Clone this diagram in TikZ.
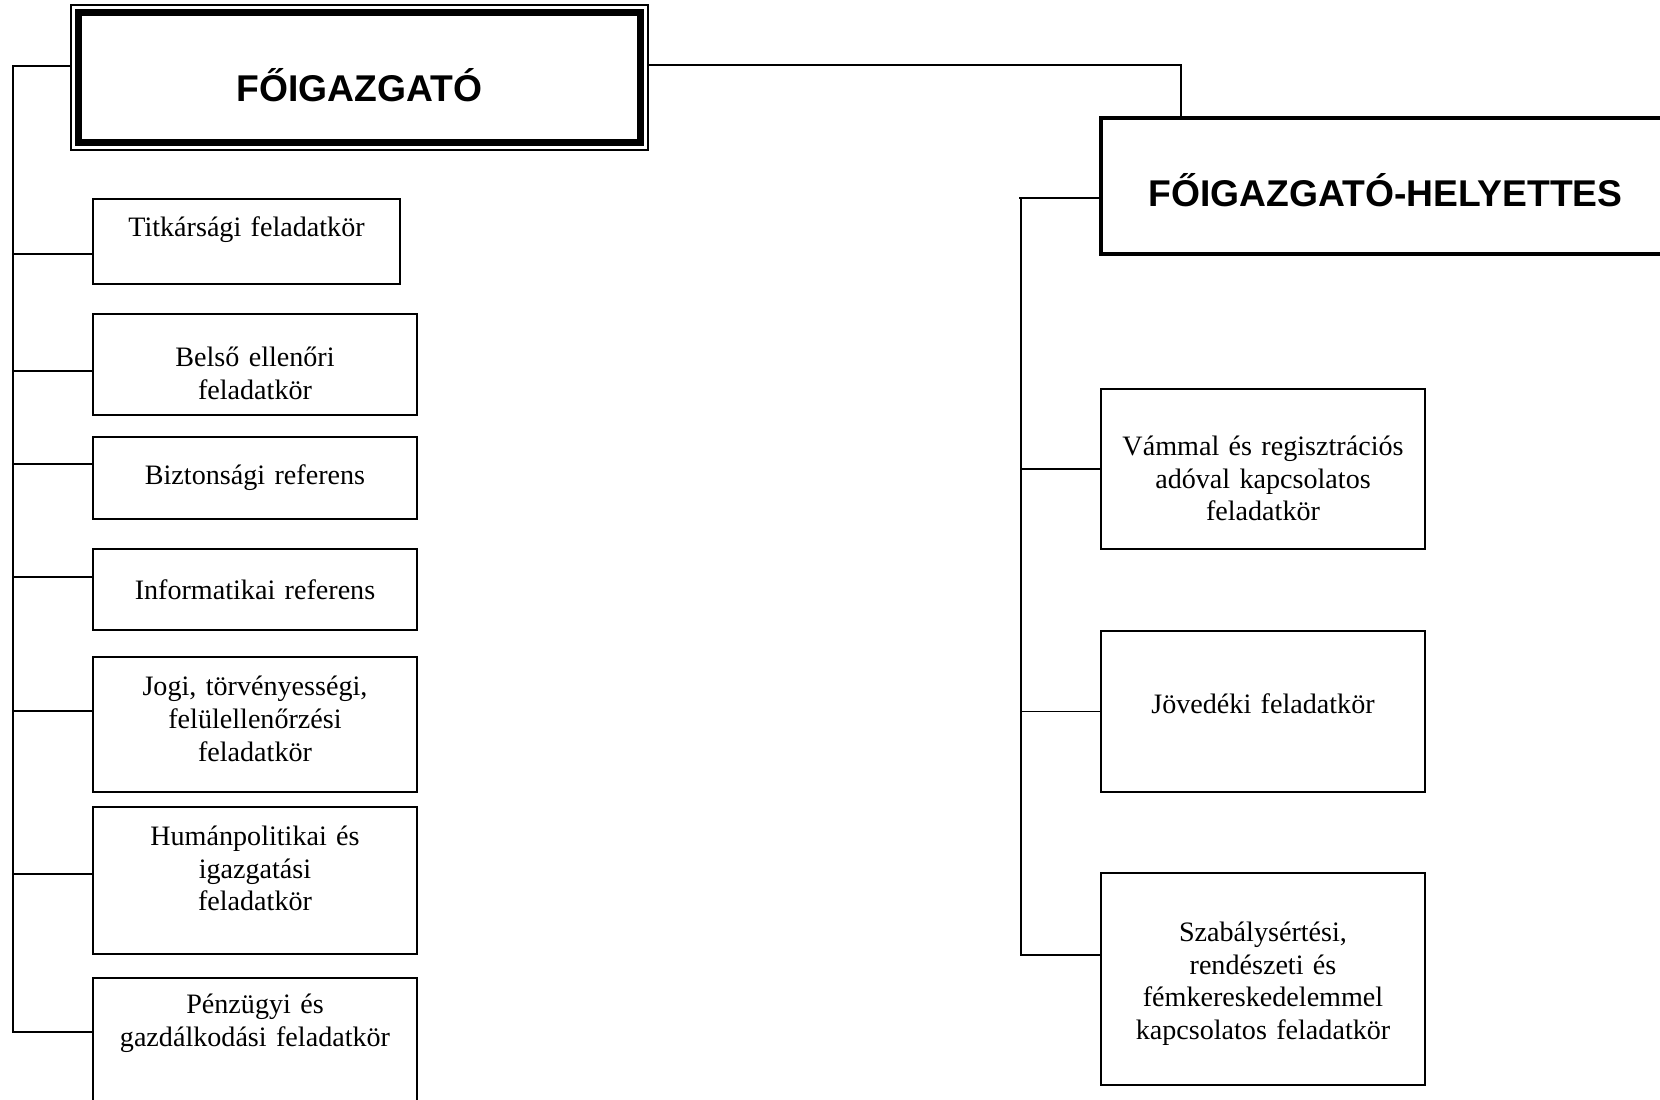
\documentclass[tikz,border=0pt]{standalone}
\usepackage{fontspec}
\setmainfont{Liberation Serif}
\setsansfont{Liberation Sans}
\newcommand{\txtup}[1]{\rule[-#1]{0pt}{0pt}}
\newcommand{\txtdn}[1]{\rule{0pt}{#1}}
\begin{document}
\begin{tikzpicture}[line width=0.45pt,draw=black!100]
	\def \lcol{2.55cm}
	\def \rcol{12.63cm}
	\def \ltrunk{0.13cm}
	\def \rtrunk{10.21cm}
	\tikzstyle{boss}=[rectangle,draw=black!100,inner sep=0pt,font=\sffamily\bfseries\fontsize{10.6pt}{12pt}\selectfont]
	\tikzstyle{frame}=[rectangle,draw=black!100,line width=0.5pt,inner sep=0pt]
	\tikzstyle{unit}=[rectangle,draw=black!100,line width=0.6pt,inner sep=0pt,minimum width=3.24cm,text width=3.1cm,align=center,font=\fontsize{8pt}{9.3pt}\selectfont]
	\tikzstyle{link}=[line width=0.45pt]

	\useasboundingbox (0,0) rectangle (16.6,-11);
	\clip (0,0) rectangle (16.6,-11);

	% leaders
	\node[frame,minimum width=5.77cm,minimum height=1.45cm] (fo-out) at (3.595,-0.775) {};
	\node[boss,line width=2pt,minimum width=5.62cm,minimum height=1.30cm] (fo) at (3.595,-0.775) {\txtdn{14pt}FŐIGAZGATÓ};
	\node[boss,line width=1.2pt,minimum width=5.69cm,minimum height=1.36cm] (fh) at (13.855,-1.86) {\txtdn{12pt}FŐIGAZGATÓ-HELYETTES};

	% left column
	\node[unit,text width=2.9cm,minimum width=3.07cm,minimum height=0.85cm] (l1) at (2.465,-2.415) {Titkársági feladatkör\txtup{8.3pt}};
	\node[unit,minimum height=1.01cm] (l2) at (\lcol,-3.645) {\txtdn{10.6pt}Belső ellenőri\\feladatkör};
	\node[unit,minimum height=0.82cm] (l3) at (\lcol,-4.78) {Biztonsági referens};
	\node[unit,minimum height=0.81cm] (l4) at (\lcol,-5.895) {Informatikai referens};
	\node[unit,minimum height=1.35cm] (l5) at (\lcol,-7.245) {Jogi, törvényességi,\\felülellenőrzési\\feladatkör\txtup{3.2pt}};
	\node[unit,minimum height=1.47cm] (l6) at (\lcol,-8.805) {Humánpolitikai és\\igazgatási\\feladatkör\txtup{6.9pt}};
	\node[unit,minimum height=1.52cm] (l7) at (\lcol,-10.54) {Pénzügyi és\\gazdálkodási feladatkör\txtup{19.4pt}};

	% right column
	\node[unit,minimum height=1.60cm] (r1) at (\rcol,-4.69) {\txtdn{10.9pt}Vámmal és regisztrációs\\adóval kapcsolatos\\feladatkör};
	\node[unit,minimum height=1.61cm] (r2) at (\rcol,-7.115) {Jövedéki feladatkör\txtup{4.3pt}};
	\node[unit,minimum height=2.12cm] (r3) at (\rcol,-9.79) {\txtdn{8.2pt}Szabálysértési,\\rendészeti és\\fémkereskedelemmel\\kapcsolatos feladatkör};

	% trunks
	\coordinate (lt) at (\ltrunk,-0.66);
	\coordinate (lb) at (\ltrunk,-10.32);
	\coordinate (rt) at (\rtrunk,-1.98);
	\coordinate (rb) at (\rtrunk,-9.55);
	\coordinate (tr) at (11.81,-0.65);

	\draw[link] (fo-out.west |- lt) -- (lt) -- (lb);
	\draw[link] (rt) -- (rb);
	\draw[link] (fo-out.east |- tr) -- (tr) -- (tr |- fh.north);

	\foreach \n/\dy in {l1/-0.125,l2/-0.065,l3/0.14,l4/0.125,l5/0.135,l6/0.065,l7/0.22,fh/-0.12,r1/0,r2/0,r3/0.24}
		\draw[link] ([yshift=\dy cm]\n.west) -- ++(-0.80,0);
\end{tikzpicture}
\end{document}
